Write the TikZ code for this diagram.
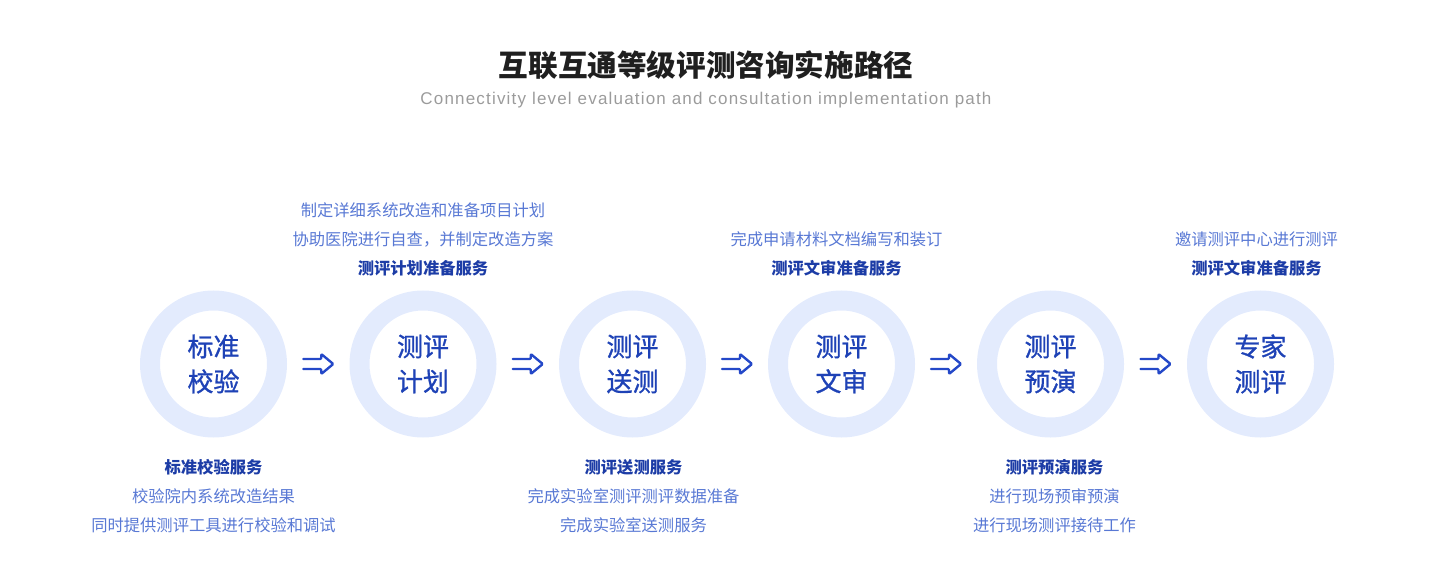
\documentclass[tikz,border=0pt]{standalone}
\usepackage{fontspec}
\usepackage{xcolor}
\usepackage{tikz}
\usetikzlibrary{positioning, calc}
\newfontfamily\cjk{Noto Sans CJK SC}
\newfontfamily\cjkmid[FakeBold=1]{Noto Sans CJK SC}
\newfontfamily\latinsans[LetterSpace=7]{Liberation Sans}
\definecolor{ringblue}{RGB}{227,235,253}
\definecolor{stepblue}{RGB}{30,66,182}
\definecolor{boldblue}{RGB}{28,60,166}
\definecolor{softblue}{RGB}{88,120,212}
\definecolor{arrowblue}{RGB}{36,72,200}
\definecolor{subgray}{RGB}{155,155,155}

\begin{document}
\begin{tikzpicture}[x=1pt, y=-1pt,
        ring/.style={circle, draw=ringblue, line width=20pt, minimum size=127pt, inner sep=0pt, align=center, text=stepblue, font=\cjkmid\fontsize{26}{35}\selectfont},
        note/.style={align=center, inner sep=0pt, text=softblue, font=\cjk\fontsize{16.3}{29}\selectfont},
        flowarrow/.pic={\draw[arrowblue, line width=2.4pt, rounded corners=1pt, line cap=round, line join=round]
            (-15,-5) -- (3,-5) -- (3,-10) -- (15,0) -- (3,10) -- (3,5) -- (-15,5);}
    ]
        \useasboundingbox (0,0) rectangle (1431,585);

        % Title
        \node[font=\cjk\bfseries\fontsize{29.6}{32}\selectfont, text=black!88] (title) at (706,65) {互联互通等级评测咨询实施路径};
        \node[font=\latinsans\fontsize{17}{20}\selectfont, text=subgray] (subtitle) at (706,100.5) {Connectivity level evaluation and consultation implementation path};

        % Steps
        \node[ring] (calib)  at (213.5,364) {标准\\校验};
        \node[ring] (plan)   at (423,364)   {测评\\计划};
        \node[ring] (send)   at (632.5,364) {测评\\送测};
        \node[ring] (review) at (841.5,364) {测评\\文审};
        \node[ring] (rehear) at (1050.5,364) {测评\\预演};
        \node[ring] (expert) at (1260.5,364) {专家\\测评};

        % Notes above
        \node[note, above=14pt of plan] (plannote) {制定详细系统改造和准备项目计划\\协助医院进行自查，并制定改造方案\\\textcolor{boldblue}{\bfseries 测评计划准备服务}};
        \node[note, above=14pt of review, xshift=-5pt] (reviewnote) {完成申请材料文档编写和装订\\\textcolor{boldblue}{\bfseries 测评文审准备服务}};
        \node[note, above=14pt of expert, xshift=-4pt] (expertnote) {邀请测评中心进行测评\\\textcolor{boldblue}{\bfseries 测评文审准备服务}};

        % Notes below
        \node[note, below=22pt of calib] (calibnote) {\textcolor{boldblue}{\bfseries 标准校验服务}\\校验院内系统改造结果\\同时提供测评工具进行校验和调试};
        \node[note, below=22pt of send, xshift=1pt] (sendnote) {\textcolor{boldblue}{\bfseries 测评送测服务}\\完成实验室测评测评数据准备\\完成实验室送测服务};
        \node[note, below=22pt of rehear, xshift=4pt] (rehearnote) {\textcolor{boldblue}{\bfseries 测评预演服务}\\进行现场预审预演\\进行现场测评接待工作};

        % Arrows
        \foreach \a/\b in {calib/plan, plan/send, send/review, review/rehear, rehear/expert}
            \pic at ($(\a.east)!0.5!(\b.west)$) {flowarrow};
\end{tikzpicture}
\end{document}
